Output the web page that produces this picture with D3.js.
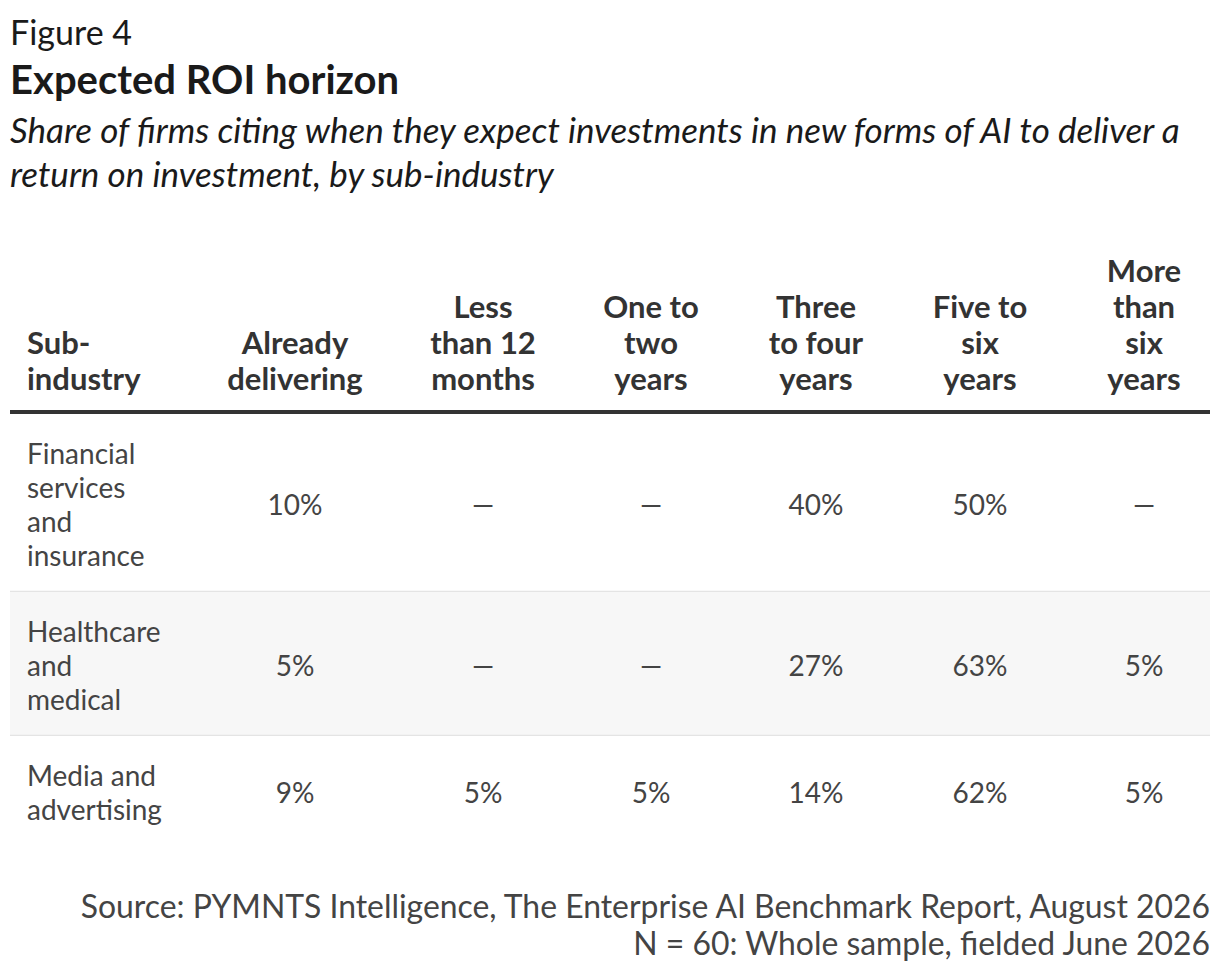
<!DOCTYPE html>
<html>
<head>
<meta charset="utf-8">
<script src="https://cdn.jsdelivr.net/npm/d3@7"></script>
<style>
    body { margin: 0; background: #fff; }
    svg { display: block; font-family: Lato, "Noto Sans", sans-serif; }
</style>
</head>
<body>
<div id="roi-table"></div>
<script>
const figureLabel = "Figure 4";
const titleText = "Expected ROI horizon";
const subtitleLines = [
    "Share of firms citing when they expect investments in new forms of AI to deliver a",
    "return on investment, by sub-industry"
];
const columnHeaders = [
    ["Sub-", "industry"],
    ["Already", "delivering"],
    ["Less", "than 12", "months"],
    ["One to", "two", "years"],
    ["Three", "to four", "years"],
    ["Five to", "six", "years"],
    ["More", "than", "six", "years"]
];
const subIndustries = [
    ["Financial", "services", "and", "insurance"],
    ["Healthcare", "and", "medical"],
    ["Media and", "advertising"]
];
// null = no response in that bucket
const alreadyDelivering = [10, 5, 9];
const lessThan12Months = [null, null, 5];
const oneToTwoYears = [null, null, 5];
const threeToFourYears = [40, 27, 14];
const fiveToSixYears = [50, 63, 62];
const moreThanSixYears = [null, 5, 5];
const sourceLines = [
    "Source: PYMNTS Intelligence, The Enterprise AI Benchmark Report, August 2026",
    "N = 60: Whole sample, fielded June 2026"
];

function createRoiTable() {
    var width = 1220;
    var height = 974;
    var left = 10, right = 1210;
    var headerLine = 36, bodyLine = 34, rowPad = 42;
    var headerBottom = 390; // baseline of last header line
    var ruleY = 412;

    var series = [alreadyDelivering, lessThan12Months, oneToTwoYears,
        threeToFourYears, fiveToSixYears, moreThanSixYears];

    // column centres for the value columns
    var x = d3.scaleOrdinal()
        .domain(d3.range(1, 7))
        .range([295, 483, 651, 816, 980, 1144]);

    var fmt = v => v == null ? "\u2014" : v + "%";

    var svg = d3.select("#roi-table")
        .append("svg")
            .attr("viewBox", [0, 0, width, height])
            .attr("width", width)
            .attr("height", height);

    svg.append("text")
        .attr("x", left).attr("y", 45)
        .attr("font-size", 34).attr("fill", "#1a1a1a")
        .text(figureLabel);

    svg.append("text")
        .attr("x", left).attr("y", 94)
        .attr("font-size", 40).attr("font-weight", "bold").attr("fill", "#1a1a1a")
        .text(titleText);

    svg.append("g")
        .selectAll("text")
        .data(subtitleLines)
        .join("text")
            .attr("x", left)
            .attr("y", (d, i) => 143 + i * 44)
            .attr("font-size", 35).attr("font-style", "italic").attr("fill", "#1a1a1a")
            .text(d => d);

    // header
    var header = svg.append("g")
        .attr("font-size", 31).attr("font-weight", "bold").attr("fill", "#333");

    header.selectAll("text")
        .data(columnHeaders)
        .join("text")
            .attr("text-anchor", (d, i) => i === 0 ? "start" : "middle")
            .attr("x", (d, i) => i === 0 ? 27 : x(i))
            .attr("y", d => headerBottom - (d.length - 1) * headerLine)
            .selectAll("tspan")
            .data(d => d)
            .join("tspan")
                .attr("x", function() { return this.parentNode.getAttribute("x"); })
                .attr("dy", (d, i) => i === 0 ? 0 : headerLine)
                .text(d => d);

    // rows
    var rowHeights = subIndustries.map(d => d.length * bodyLine + rowPad);
    var rowTops = rowHeights.map((h, i) => ruleY + 2 + d3.sum(rowHeights.slice(0, i)));

    var rows = svg.append("g")
        .selectAll("g")
        .data(subIndustries)
        .join("g")
            .attr("transform", (d, i) => `translate(0,${rowTops[i]})`);

    rows.append("rect")
        .attr("x", left)
        .attr("width", right - left)
        .attr("height", (d, i) => rowHeights[i])
        .attr("fill", (d, i) => i === 1 ? "#f7f7f7" : "#fff");

    rows.filter((d, i) => i < subIndustries.length - 1)
        .append("line")
        .attr("x1", left).attr("x2", right)
        .attr("y1", (d, i) => rowHeights[i] - 0.5)
        .attr("y2", (d, i) => rowHeights[i] - 0.5)
        .attr("stroke", "#e4e4e4")
        .attr("stroke-width", 1.5);

    rows.append("text")
        .attr("x", 27)
        .attr("y", rowPad / 2 + bodyLine * 0.5 + 12)
        .attr("font-size", 28).attr("fill", "#444")
        .selectAll("tspan")
        .data(d => d)
        .join("tspan")
            .attr("x", 27)
            .attr("dy", (d, i) => i === 0 ? 0 : bodyLine)
            .text(d => d);

    rows.each(function(d, r) {
        d3.select(this).append("g")
            .selectAll("text")
            .data(series.map(s => s[r]))
            .join("text")
                .attr("x", (v, c) => x(c + 1))
                .attr("y", rowHeights[r] / 2 + 12)
                .attr("text-anchor", "middle")
                .attr("font-size", 28).attr("fill", "#444")
                .text(fmt);
    });

    svg.append("line")
        .attr("x1", left).attr("x2", right)
        .attr("y1", ruleY).attr("y2", ruleY)
        .attr("stroke", "#333")
        .attr("stroke-width", 4);

    svg.append("g")
        .selectAll("text")
        .data(sourceLines)
        .join("text")
            .attr("x", right)
            .attr("y", (d, i) => 918 + i * 37)
            .attr("text-anchor", "end")
            .attr("font-size", 31.9).attr("fill", "#444")
            .text(d => d);
}

createRoiTable();
</script>
</body>
</html>
